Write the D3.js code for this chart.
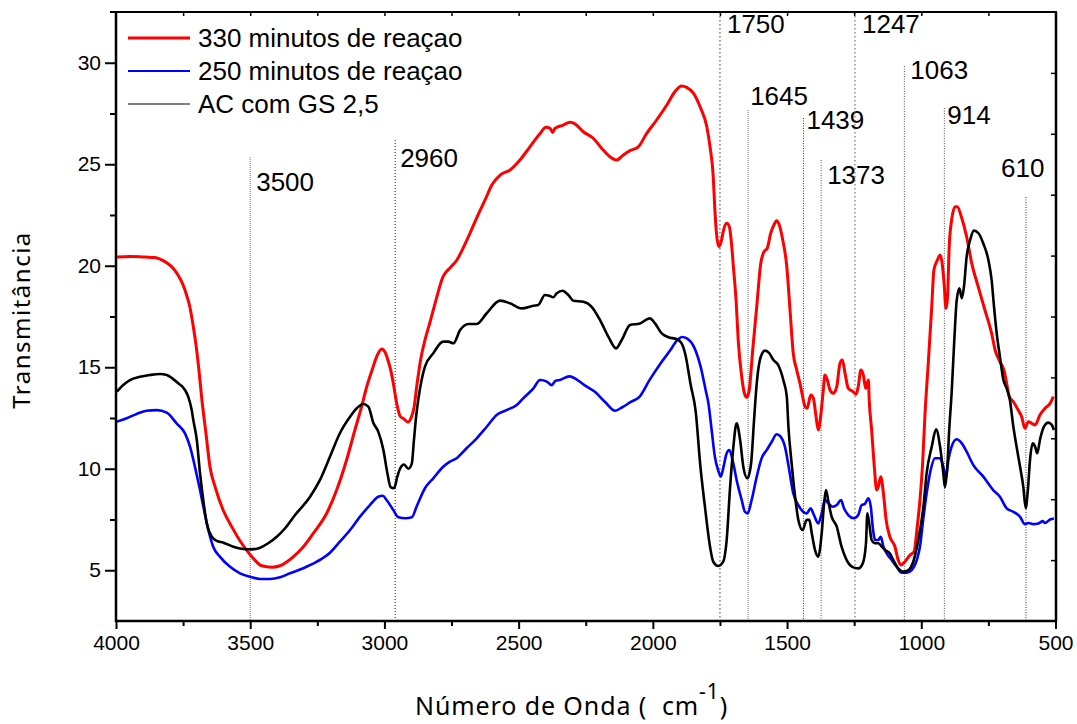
<!DOCTYPE html>
<html>
<head>
<meta charset="utf-8">
<script src="https://cdn.jsdelivr.net/npm/d3@7/dist/d3.min.js"></script>
<style>
  body { margin: 0; background: #ffffff; }
  svg { display: block; }
</style>
</head>
<body>
<svg id="chart" width="1077" height="724"></svg>
<script>
// ---------- data ----------
const seriesNames = ["330 minutos de reaçao", "250 minutos de reaçao", "AC com GS 2,5"];

const xMajorTicks = [4000, 3500, 3000, 2500, 2000, 1500, 1000, 500];
const xMinorTicks = [3750, 3250, 2750, 2250, 1750, 1250, 750];
const yMajorTicks = [5, 10, 15, 20, 25, 30];
const yMinorTicks = [7.5, 12.5, 17.5, 22.5, 27.5];

const bandPositions = [3500, 2960, 1750, 1645, 1439, 1373, 1247, 1063, 914, 610];
const bandLabels = ["3500", "2960", "1750", "1645", "1439", "1373", "1247", "1063", "914", "610"];

// [wavenumber (cm-1), transmittance]
const spectrum330 = [
  [3996,20.43],[3948,20.46],[3892,20.43],[3855,20.41],[3836,20.33],[3810,20.14],[3788,19.89],
  [3769,19.54],[3750,19.05],[3736,18.51],[3724,17.92],[3713,17.08],[3702,16.10],[3691,14.86],
  [3680,13.39],[3665,11.76],[3650,10.10],[3631,9.12],[3601,7.97],[3569,7.15],[3532,6.33],
  [3494,5.67],[3457,5.22],[3420,5.15],[3389,5.22],[3339,5.67],[3302,6.16],[3265,6.82],
  [3215,7.81],[3178,8.95],[3141,10.43],[3110,11.91],[3085,13.06],[3066,14.04],[3046,14.86],
  [3028,15.55],[3010,15.90],[2998,15.75],[2987,15.36],[2975,14.77],[2964,13.98],[2953,13.14],
  [2942,12.60],[2927,12.45],[2912,12.30],[2901,12.50],[2890,12.99],[2879,14.13],[2864,15.46],
  [2849,16.34],[2830,17.23],[2808,18.31],[2782,19.45],[2756,19.89],[2730,20.28],[2707,20.87],
  [2681,21.61],[2655,22.40],[2625,23.24],[2600,23.98],[2569,24.47],[2532,24.72],[2495,25.21],
  [2458,25.86],[2420,26.52],[2398,26.82],[2383,26.77],[2373,26.57],[2365,26.77],[2334,26.93],
  [2309,27.07],[2290,26.99],[2259,26.60],[2222,26.28],[2191,25.79],[2160,25.37],[2135,25.21],
  [2110,25.46],[2085,25.67],[2054,25.86],[2023,26.52],[1986,27.18],[1948,27.92],[1918,28.57],
  [1893,28.86],[1874,28.79],[1849,28.50],[1824,27.83],[1799,26.85],[1787,25.86],[1775,24.39],
  [1769,22.75],[1763,21.60],[1754,20.94],[1744,21.27],[1738,21.68],[1725,22.09],[1715,21.92],
  [1706,20.94],[1700,19.95],[1690,18.31],[1682,16.34],[1669,14.53],[1659,13.72],[1650,13.52],
  [1641,13.88],[1628,15.85],[1613,17.98],[1598,20.12],[1586,20.69],[1574,20.86],[1561,21.60],
  [1549,22.01],[1539,22.22],[1529,22.01],[1516,21.27],[1501,19.95],[1489,17.82],[1477,15.69],
  [1464,14.86],[1452,14.21],[1442,13.55],[1433,13.06],[1425,12.98],[1412,13.63],[1402,13.47],
  [1392,12.56],[1384,11.91],[1375,12.56],[1365,13.88],[1359,14.62],[1350,14.37],[1340,13.88],
  [1328,13.72],[1315,14.04],[1303,15.19],[1294,15.36],[1284,14.70],[1272,13.96],[1253,13.79],
  [1243,13.67],[1235,14.04],[1225,14.86],[1216,14.62],[1207,13.96],[1197,14.37],[1194,13.39],
  [1185,11.91],[1176,10.27],[1166,8.95],[1160,9.12],[1151,9.61],[1141,8.79],[1131,7.48],
  [1117,6.65],[1098,6.16],[1086,5.50],[1076,5.26],[1061,5.42],[1042,5.75],[1027,5.91],
  [1015,7.15],[1005,8.46],[995,10.27],[986,12.73],[974,15.19],[961,18.00],[953,19.79],
  [940,20.28],[930,20.53],[924,20.28],[915,19.14],[908,17.90],[902,18.47],[896,20.94],
  [887,22.25],[874,22.91],[866,22.91],[849,22.34],[831,21.43],[812,20.12],[788,18.97],
  [763,17.82],[738,16.67],[725,15.85],[707,15.27],[692,14.86],[682,14.21],[672,13.55],
  [657,13.30],[639,12.89],[626,12.56],[614,11.99],[601,12.32],[589,12.24],[576,12.16],
  [558,12.65],[539,12.98],[520,13.22],[508,13.55]
];

const spectrum250 = [
  [3997,12.32],[3960,12.49],[3923,12.70],[3886,12.86],[3848,12.89],[3811,12.76],[3774,12.23],
  [3743,11.74],[3724,11.08],[3706,10.10],[3687,8.95],[3672,7.97],[3656,6.98],[3638,6.16],
  [3613,5.67],[3575,5.17],[3538,4.85],[3501,4.68],[3463,4.57],[3426,4.57],[3389,4.65],
  [3352,4.85],[3302,5.10],[3252,5.42],[3203,5.86],[3166,6.41],[3128,6.98],[3091,7.64],
  [3054,8.21],[3023,8.62],[3006,8.67],[2992,8.46],[2967,7.97],[2948,7.61],[2923,7.56],
  [2898,7.61],[2880,8.14],[2849,9.04],[2818,9.53],[2781,10.10],[2756,10.35],[2731,10.52],
  [2694,11.01],[2656,11.50],[2619,12.07],[2582,12.65],[2545,12.89],[2507,13.14],[2483,13.47],
  [2445,13.96],[2420,14.37],[2395,14.29],[2376,14.12],[2363,14.33],[2344,14.38],[2312,14.55],
  [2293,14.47],[2255,14.12],[2216,13.79],[2178,13.29],[2140,12.86],[2114,13.03],[2082,13.29],
  [2050,13.54],[2012,14.38],[1974,15.14],[1936,15.82],[1910,16.32],[1891,16.49],[1872,16.41],
  [1846,15.98],[1821,14.97],[1802,13.79],[1793,13.22],[1781,11.91],[1769,10.59],[1756,9.90],
  [1747,9.61],[1738,10.02],[1725,10.76],[1715,10.92],[1703,10.43],[1688,9.45],[1669,8.46],
  [1657,7.88],[1647,7.80],[1632,8.46],[1613,9.61],[1595,10.51],[1576,10.92],[1557,11.33],
  [1539,11.70],[1524,11.58],[1508,11.09],[1492,9.94],[1477,8.79],[1458,8.21],[1440,7.88],
  [1427,7.80],[1412,8.05],[1400,7.72],[1384,7.31],[1371,7.80],[1359,8.46],[1346,8.30],
  [1330,8.13],[1315,8.21],[1299,8.46],[1288,8.05],[1272,7.72],[1251,7.56],[1235,7.72],
  [1222,8.21],[1210,8.27],[1197,8.55],[1188,8.13],[1181,7.15],[1172,6.49],[1160,6.49],
  [1151,6.65],[1141,6.16],[1129,5.83],[1110,5.50],[1092,5.17],[1073,4.88],[1054,4.88],
  [1036,5.01],[1017,5.50],[1005,6.16],[993,7.48],[980,8.79],[965,9.94],[949,10.52],
  [930,10.52],[918,10.10],[908,9.61],[899,10.43],[887,11.09],[868,11.45],[849,11.25],
  [831,10.84],[806,10.18],[769,9.61],[732,8.95],[707,8.62],[682,8.05],[657,7.88],
  [632,7.63],[614,7.27],[601,7.33],[583,7.27],[564,7.30],[548,7.42],[539,7.33],
  [520,7.50],[506,7.55]
];

const spectrumAC = [
  [3997,13.80],[3973,14.13],[3948,14.37],[3911,14.53],[3874,14.62],[3836,14.67],[3811,14.62],
  [3793,14.48],[3768,14.21],[3743,13.88],[3731,13.55],[3718,12.89],[3712,12.40],[3699,11.42],
  [3687,9.78],[3675,8.46],[3662,7.31],[3643,6.65],[3625,6.45],[3600,6.36],[3563,6.16],
  [3526,6.05],[3494,6.03],[3463,6.11],[3433,6.33],[3401,6.65],[3370,7.07],[3333,7.72],
  [3277,8.62],[3240,9.45],[3203,10.59],[3166,11.75],[3128,12.56],[3103,12.98],[3079,13.19],
  [3060,13.06],[3041,12.25],[3023,11.83],[3004,10.93],[2989,9.78],[2977,9.09],[2964,9.04],
  [2952,9.61],[2942,10.00],[2927,10.21],[2911,10.00],[2898,10.25],[2890,11.42],[2882,12.56],
  [2874,13.39],[2849,15.03],[2818,15.69],[2781,16.26],[2762,16.26],[2743,16.18],[2718,16.83],
  [2687,17.13],[2656,17.13],[2619,17.66],[2569,18.28],[2532,18.15],[2489,17.90],[2445,18.03],
  [2427,18.07],[2402,18.56],[2383,18.51],[2371,18.45],[2358,18.64],[2336,18.77],[2315,18.56],
  [2296,18.28],[2259,18.23],[2228,17.98],[2197,17.33],[2166,16.51],[2137,15.93],[2116,16.34],
  [2085,17.08],[2048,17.16],[2011,17.41],[1992,17.16],[1967,16.67],[1942,16.48],[1911,16.38],
  [1893,16.18],[1880,15.69],[1859,14.13],[1840,12.78],[1824,10.27],[1806,8.13],[1787,6.16],
  [1775,5.42],[1756,5.21],[1738,5.42],[1725,6.49],[1713,8.95],[1700,11.09],[1688,12.24],
  [1675,11.42],[1663,10.10],[1648,9.53],[1634,10.27],[1623,12.40],[1613,14.21],[1598,15.52],
  [1582,15.82],[1566,15.69],[1551,15.36],[1533,15.11],[1514,14.37],[1501,13.55],[1495,12.07],
  [1483,10.27],[1470,8.62],[1458,7.48],[1442,6.98],[1427,7.48],[1417,7.48],[1408,6.82],
  [1396,6.00],[1384,5.67],[1371,6.82],[1362,8.30],[1355,8.95],[1346,8.38],[1334,7.64],
  [1315,7.15],[1297,6.16],[1278,5.50],[1253,5.14],[1235,5.09],[1218,5.34],[1206,6.33],
  [1201,7.81],[1194,7.31],[1185,6.49],[1172,6.33],[1160,6.33],[1147,6.16],[1135,6.00],
  [1117,5.83],[1104,5.50],[1086,5.09],[1067,4.93],[1048,5.01],[1030,5.42],[1011,6.49],
  [992,8.13],[980,9.78],[961,11.09],[945,11.94],[930,11.09],[918,9.78],[912,9.09],
  [903,10.10],[896,11.91],[887,13.72],[877,16.34],[868,18.31],[858,18.89],[849,18.40],
  [841,18.97],[831,20.45],[818,21.27],[804,21.73],[787,21.60],[769,21.10],[750,20.28],
  [738,19.30],[729,17.98],[719,16.67],[707,15.52],[694,14.37],[682,13.96],[670,13.39],
  [657,12.07],[645,11.09],[632,10.10],[620,9.12],[611,8.06],[603,8.95],[595,10.43],
  [585,11.25],[576,11.09],[568,10.76],[558,11.42],[543,12.07],[527,12.27],[514,12.16],
  [506,11.91]
];

// ---------- layout ----------
const plot = { left: 116, right: 1056, top: 12, bottom: 621 };
const numFont = "'Liberation Sans', Arial, sans-serif";
const titleFont = "'Noto Sans', 'Open Sans', sans-serif";

const svg = d3.select("#chart");

const x = d3.scaleLinear().domain([4000, 500]).range([plot.left, 1055.5]);
const y = d3.scaleLinear().domain([2.5, 32.5]).range([plot.bottom, plot.top]);
// secondary right-hand scale (ticks only)
const yRight = d3.scaleLinear().domain([0, 10]).range([plot.bottom, plot.top]);

const series = [
  { name: seriesNames[0], data: spectrum330, color: "#ff0000", width: 3,   legendWidth: 3 },
  { name: seriesNames[1], data: spectrum250, color: "#0000ff", width: 2.6, legendWidth: 2 },
  { name: seriesNames[2], data: spectrumAC,  color: "#000000", width: 2.6, legendWidth: 1.2 }
];

// ---------- band marker lines ----------
const bandStyle = {
  3500: { top: 157, base: 191, dx: 6,   dash: "1,1", color: "#777" },
  2960: { top: 140, base: 167, dx: 5,   dash: "1,2", color: "#222" },
  1750: { top: 12,  base: 33,  dx: 7,   dash: "1.5,2.5", color: "#444" },
  1645: { top: 110, base: 105, dx: 2,   dash: "1,1", color: "#777" },
  1439: { top: 118, base: 129, dx: 3,   dash: "1,1.5", color: "#333" },
  1373: { top: 160, base: 184, dx: 6,   dash: "1,1.5", color: "#555" },
  1247: { top: 12,  base: 33,  dx: 7,   dash: "1.5,2.5", color: "#555" },
  1063: { top: 66,  base: 79,  dx: 6,   dash: "1,1.5", color: "#555" },
  914:  { top: 108, base: 124, dx: 3,   dash: "1,1.5", color: "#555" },
  610:  { top: 197, base: 177, dx: -25, dash: "1,1.5", color: "#333" }
};

const bands = svg.append("g").attr("class", "bands");
bandPositions.forEach((wn, i) => {
  const s = bandStyle[wn];
  bands.append("line")
    .attr("x1", x(wn)).attr("x2", x(wn))
    .attr("y1", s.top).attr("y2", plot.bottom)
    .attr("stroke", s.color).attr("stroke-width", 1)
    .attr("stroke-dasharray", s.dash);
  bands.append("text")
    .attr("x", x(wn) + s.dx).attr("y", s.base)
    .attr("font-family", numFont).attr("font-size", 26)
    .attr("fill", "#000")
    .text(bandLabels[i]);
});

// ---------- spectra ----------
const line = d3.line()
  .x(d => x(d[0]))
  .y(d => y(d[1]))
  .curve(d3.curveMonotoneX);

svg.append("g").attr("class", "spectra")
  .selectAll("path")
  .data([series[1], series[0], series[2]])
  .join("path")
  .attr("d", d => line(d.data))
  .attr("fill", "none")
  .attr("stroke", d => d.color)
  .attr("stroke-width", d => d.width)
  .attr("stroke-linejoin", "round");

// ---------- axes ----------
const axes = svg.append("g").attr("class", "axes");

// bottom axis
const xAxis = d3.axisBottom(x).tickValues(xMajorTicks).tickSize(8).tickPadding(6)
  .tickFormat(d3.format("d"));
const gx = axes.append("g").attr("transform", `translate(0,${plot.bottom})`).call(xAxis);
gx.select(".domain").remove();
gx.selectAll(".tick line").attr("stroke-width", 2);
gx.selectAll(".tick text").attr("font-family", numFont).attr("font-size", 21).attr("fill", "#000");
const gxMinor = axes.append("g").attr("transform", `translate(0,${plot.bottom})`)
  .call(d3.axisBottom(x).tickValues(xMinorTicks).tickSize(5).tickFormat(""));
gxMinor.select(".domain").remove();
gxMinor.selectAll(".tick line").attr("stroke-width", 2);

// left axis
const yAxis = d3.axisLeft(y).tickValues(yMajorTicks).tickSize(11).tickPadding(4)
  .tickFormat(d3.format("d"));
const gy = axes.append("g").attr("transform", `translate(${plot.left},0)`).call(yAxis);
gy.select(".domain").remove();
gy.selectAll(".tick line").attr("stroke-width", 2);
gy.selectAll(".tick text").attr("font-family", numFont).attr("font-size", 21).attr("fill", "#000");
const gyMinor = axes.append("g").attr("transform", `translate(${plot.left},0)`)
  .call(d3.axisLeft(y).tickValues(yMinorTicks).tickSize(6).tickFormat(""));
gyMinor.select(".domain").remove();
gyMinor.selectAll(".tick line").attr("stroke-width", 2);

// top axis: small inward ticks
const gTop = axes.append("g").attr("transform", `translate(0,${plot.top})`)
  .call(d3.axisBottom(x).tickValues(xMajorTicks.concat(xMinorTicks).filter(v => v < 4000 && v > 500))
    .tickSize(4).tickFormat(""));
gTop.select(".domain").remove();
gTop.selectAll(".tick line").attr("stroke-width", 1.5);

// right axis: small inward ticks
const gRight = axes.append("g").attr("transform", `translate(${plot.right},0)`)
  .call(d3.axisLeft(yRight).tickValues(d3.range(1, 10)).tickSize(5).tickFormat(""));
gRight.select(".domain").remove();
gRight.selectAll(".tick line").attr("stroke-width", 1.5);

// frame
axes.append("line").attr("x1", plot.left).attr("x2", plot.left)
  .attr("y1", plot.top - 1).attr("y2", plot.bottom + 1).attr("stroke", "#000").attr("stroke-width", 2.5);
axes.append("line").attr("x1", plot.left - 1).attr("x2", plot.right + 1)
  .attr("y1", plot.bottom).attr("y2", plot.bottom).attr("stroke", "#000").attr("stroke-width", 2.5);
axes.append("line").attr("x1", plot.left - 6).attr("x2", plot.right + 1)
  .attr("y1", plot.top).attr("y2", plot.top).attr("stroke", "#000").attr("stroke-width", 2);
axes.append("line").attr("x1", plot.right).attr("x2", plot.right)
  .attr("y1", plot.top).attr("y2", plot.bottom + 1).attr("stroke", "#000").attr("stroke-width", 2.5);

// ---------- axis titles ----------
const xTitle = svg.append("text")
  .attr("x", 415).attr("y", 715)
  .attr("font-family", titleFont)
  .attr("font-size", 25).attr("letter-spacing", 0.9).attr("fill", "#000");
xTitle.append("tspan").text("Número de Onda (\u00a0\u00a0cm");
xTitle.append("tspan").attr("dy", -16).attr("font-size", 21).text("-1");
xTitle.append("tspan").attr("dy", 16).text(")");

svg.append("text")
  .attr("transform", "translate(30,320) rotate(-90)")
  .attr("text-anchor", "middle")
  .attr("font-family", titleFont)
  .attr("font-size", 24).attr("letter-spacing", 1.5).attr("fill", "#000")
  .text("Transmitância");

// ---------- legend ----------
const legend = svg.append("g").attr("class", "legend");
series.forEach((s, i) => {
  const ly = 38 + i * 33;
  legend.append("line")
    .attr("x1", 128).attr("x2", 190).attr("y1", ly).attr("y2", ly)
    .attr("stroke", s.color).attr("stroke-width", s.legendWidth);
  legend.append("text")
    .attr("x", 198).attr("y", ly + 9)
    .attr("font-family", numFont).attr("font-size", 26).attr("fill", "#000")
    .text(s.name);
});
</script>
</body>
</html>
